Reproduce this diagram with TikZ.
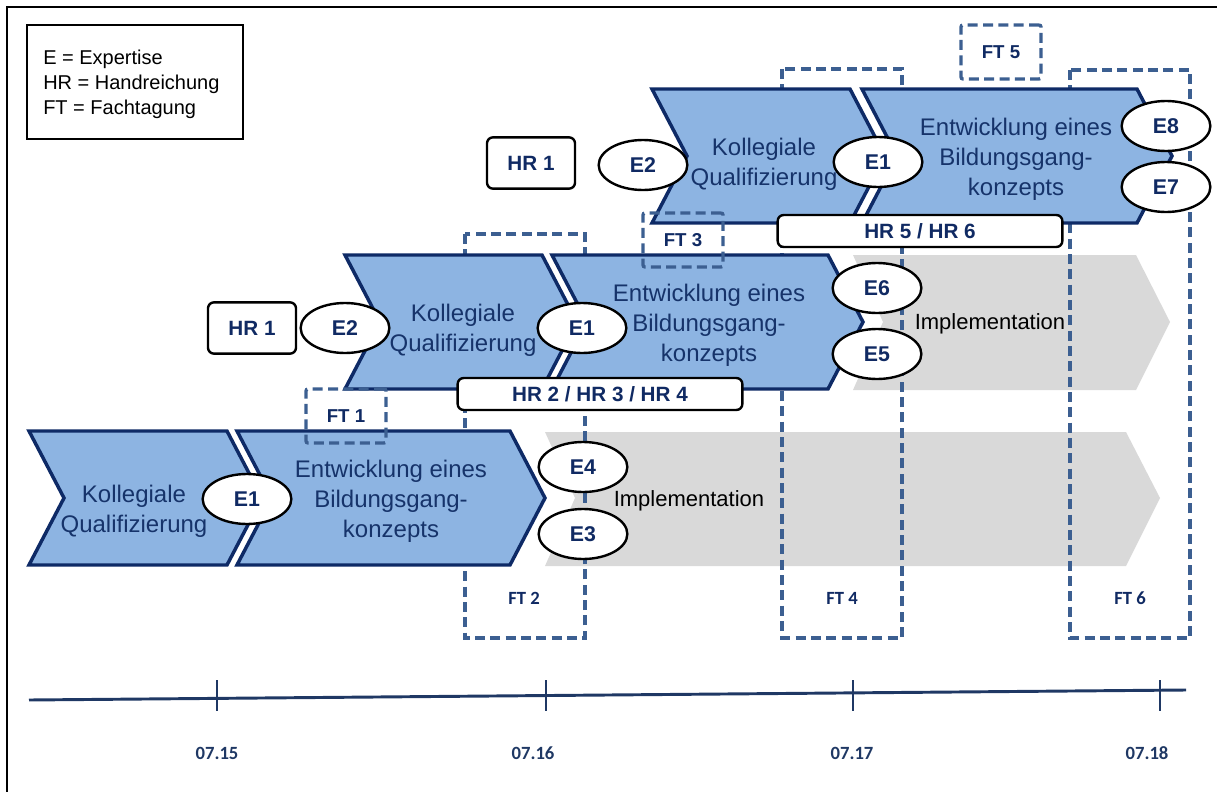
\documentclass[tikz,border=0pt]{standalone}
\usepackage{fontspec}
\setmainfont{Liberation Sans}
\newfontfamily\calibri{Carlito}
\usetikzlibrary{shapes.geometric}
\definecolor{chevfill}{HTML}{8DB4E2}
\definecolor{chevline}{HTML}{0E2A66}
\definecolor{chevtext}{HTML}{16336A}
\definecolor{labnavy}{HTML}{102A63}
\definecolor{ftblue}{HTML}{3C5F91}
\definecolor{implgray}{HTML}{D9D9D9}
\definecolor{timenavy}{HTML}{1F3864}
\begin{document}
\begin{tikzpicture}[x=0.75pt, y=-0.75pt,
    chev/.style={fill=chevfill, draw=chevline, line width=2.6pt, line join=miter},
    chevlab/.style={align=center, text=chevtext, font=\fontsize{18}{22.5}\selectfont},
    impl/.style={fill=implgray},
    impllab/.style={font=\fontsize{16.5}{19}\selectfont},
    ftline/.style={draw=ftblue, line width=2.5pt, dash pattern=on 7.5pt off 4pt},
    fttag/.style={ftline, rounded corners=1.5pt, minimum width=60pt, minimum height=40.5pt,
        text=labnavy, font=\fontsize{14}{17}\selectfont\bfseries},
    ftlab/.style={text=labnavy, font=\calibri\fontsize{14}{17}\selectfont\bfseries},
    expert/.style={ellipse, draw, fill=white, line width=1.8pt, inner sep=0pt,
        minimum width=66.5pt, minimum height=37.5pt, text=labnavy,
        font=\fontsize{16}{19}\selectfont\bfseries},
    handout/.style={draw, fill=white, rounded corners=4.5pt, line width=1.8pt,
        minimum width=66pt, minimum height=38.5pt, text=labnavy,
        font=\fontsize{15.5}{18}\selectfont\bfseries},
    wide/.style={minimum width=213.5pt, minimum height=24pt},
    datelab/.style={text=timenavy, font=\calibri\fontsize{14}{17}\selectfont\bfseries}]

\useasboundingbox (0,0) rectangle (1217,792);
\draw[line width=1.6pt] (7,792) -- (7,7) -- (1217,7);

% legend
\draw[line width=1.3pt] (27,25) rectangle (243,139);
\node[anchor=west, align=left, inner sep=0pt, font=\fontsize{15}{18.75}\selectfont]
    (legend) at (43,84) {E = Expertise\\HR = Handreichung\\FT = Fachtagung};

% implementation arrows
\fill[impl] (545,432) -- (1126,432) -- (1160,498) -- (1126,566) -- (545,566) -- (575,498) -- cycle;
\fill[impl] (853,255) -- (1136,255) -- (1170,322) -- (1136,390) -- (853,390) -- (883,322) -- cycle;
\node[impllab] (impl1) at (689,501) {Implementation};
\node[impllab] (impl2) at (990,324) {Implementation};

% large Fachtagung frames
\draw[ftline] (465,234) rectangle (585,638);
\draw[ftline] (782,69) rectangle (902,638);
\draw[ftline] (1070,70) rectangle (1190,638);
\node[ftlab] (ft2) at (524,598) {FT 2};
\node[ftlab] (ft4) at (842,598) {FT 4};
\node[ftlab] (ft6) at (1130,598) {FT 6};

% phases
\draw[chev] (29,431) -- (227,431) -- (262,498) -- (227,565) -- (29,565) -- (64,498) -- cycle;
\draw[chev] (237,431) -- (510,431) -- (545,498) -- (510,565) -- (237,565) -- (272,498) -- cycle;
\draw[chev] (345,255) -- (542,255) -- (577,322) -- (542,389) -- (345,389) -- (380,322) -- cycle;
\draw[chev] (552,255) -- (828,255) -- (863,322) -- (828,389) -- (552,389) -- (587,322) -- cycle;
\draw[chev] (652,89) -- (850,89) -- (885,156) -- (850,223) -- (652,223) -- (687,156) -- cycle;
\draw[chev] (862,89) -- (1137,89) -- (1172,156) -- (1137,223) -- (862,223) -- (897,156) -- cycle;

\node[chevlab] (kq1) at (134,511) {Kollegiale\\Qualifizierung};
\node[chevlab] (ent1) at (391,501) {Entwicklung eines\\Bildungsgang-\\konzepts};
\node[chevlab] (kq2) at (463,330) {Kollegiale\\Qualifizierung};
\node[chevlab] (ent2) at (709,325) {Entwicklung eines\\Bildungsgang-\\konzepts};
\node[chevlab] (kq3) at (764,164) {Kollegiale\\Qualifizierung};
\node[chevlab] (ent3) at (1016,159) {Entwicklung eines\\Bildungsgang-\\konzepts};

% small Fachtagungen
\node[fttag] (ft1) at (346,416) {FT 1};
\node[fttag] (ft3) at (683,240) {FT 3};
\node[fttag] (ft5) at (1001,52) {FT 5};

% Handreichungen
\node[handout] (hr1a) at (252,328) {HR 1};
\node[handout] (hr1b) at (531,163) {HR 1};
\node[handout, wide] (hr234) at (600,394) {HR 2 / HR 3 / HR 4};
\node[handout, wide] (hr56) at (920,231) {HR 5 / HR 6};

% Expertisen
\node[expert] (e1a) at (247,499) {E1};
\node[expert] (e2a) at (345,328) {E2};
\node[expert] (e1b) at (582,328) {E1};
\node[expert] (e4) at (583,467) {E4};
\node[expert] (e3) at (583,534) {E3};
\node[expert] (e6) at (877,288) {E6};
\node[expert] (e5) at (877,354) {E5};
\node[expert] (e2b) at (643,165) {E2};
\node[expert] (e1c) at (878,162) {E1};
\node[expert] (e8) at (1166,126) {E8};
\node[expert] (e7) at (1166,187) {E7};

% timeline
\draw[timenavy, line width=2.2pt] (29,700) -- (1186,690);
\foreach \x in {217, 546, 853, 1160}
    \draw[timenavy, line width=1.1pt] (\x,680) -- (\x,711);
\foreach \x/\d [count=\i] in {217/07.15, 533/07.16, 852/07.17, 1147/07.18}
    \node[datelab] (date\i) at (\x,753) {\d};
\end{tikzpicture}
\end{document}
